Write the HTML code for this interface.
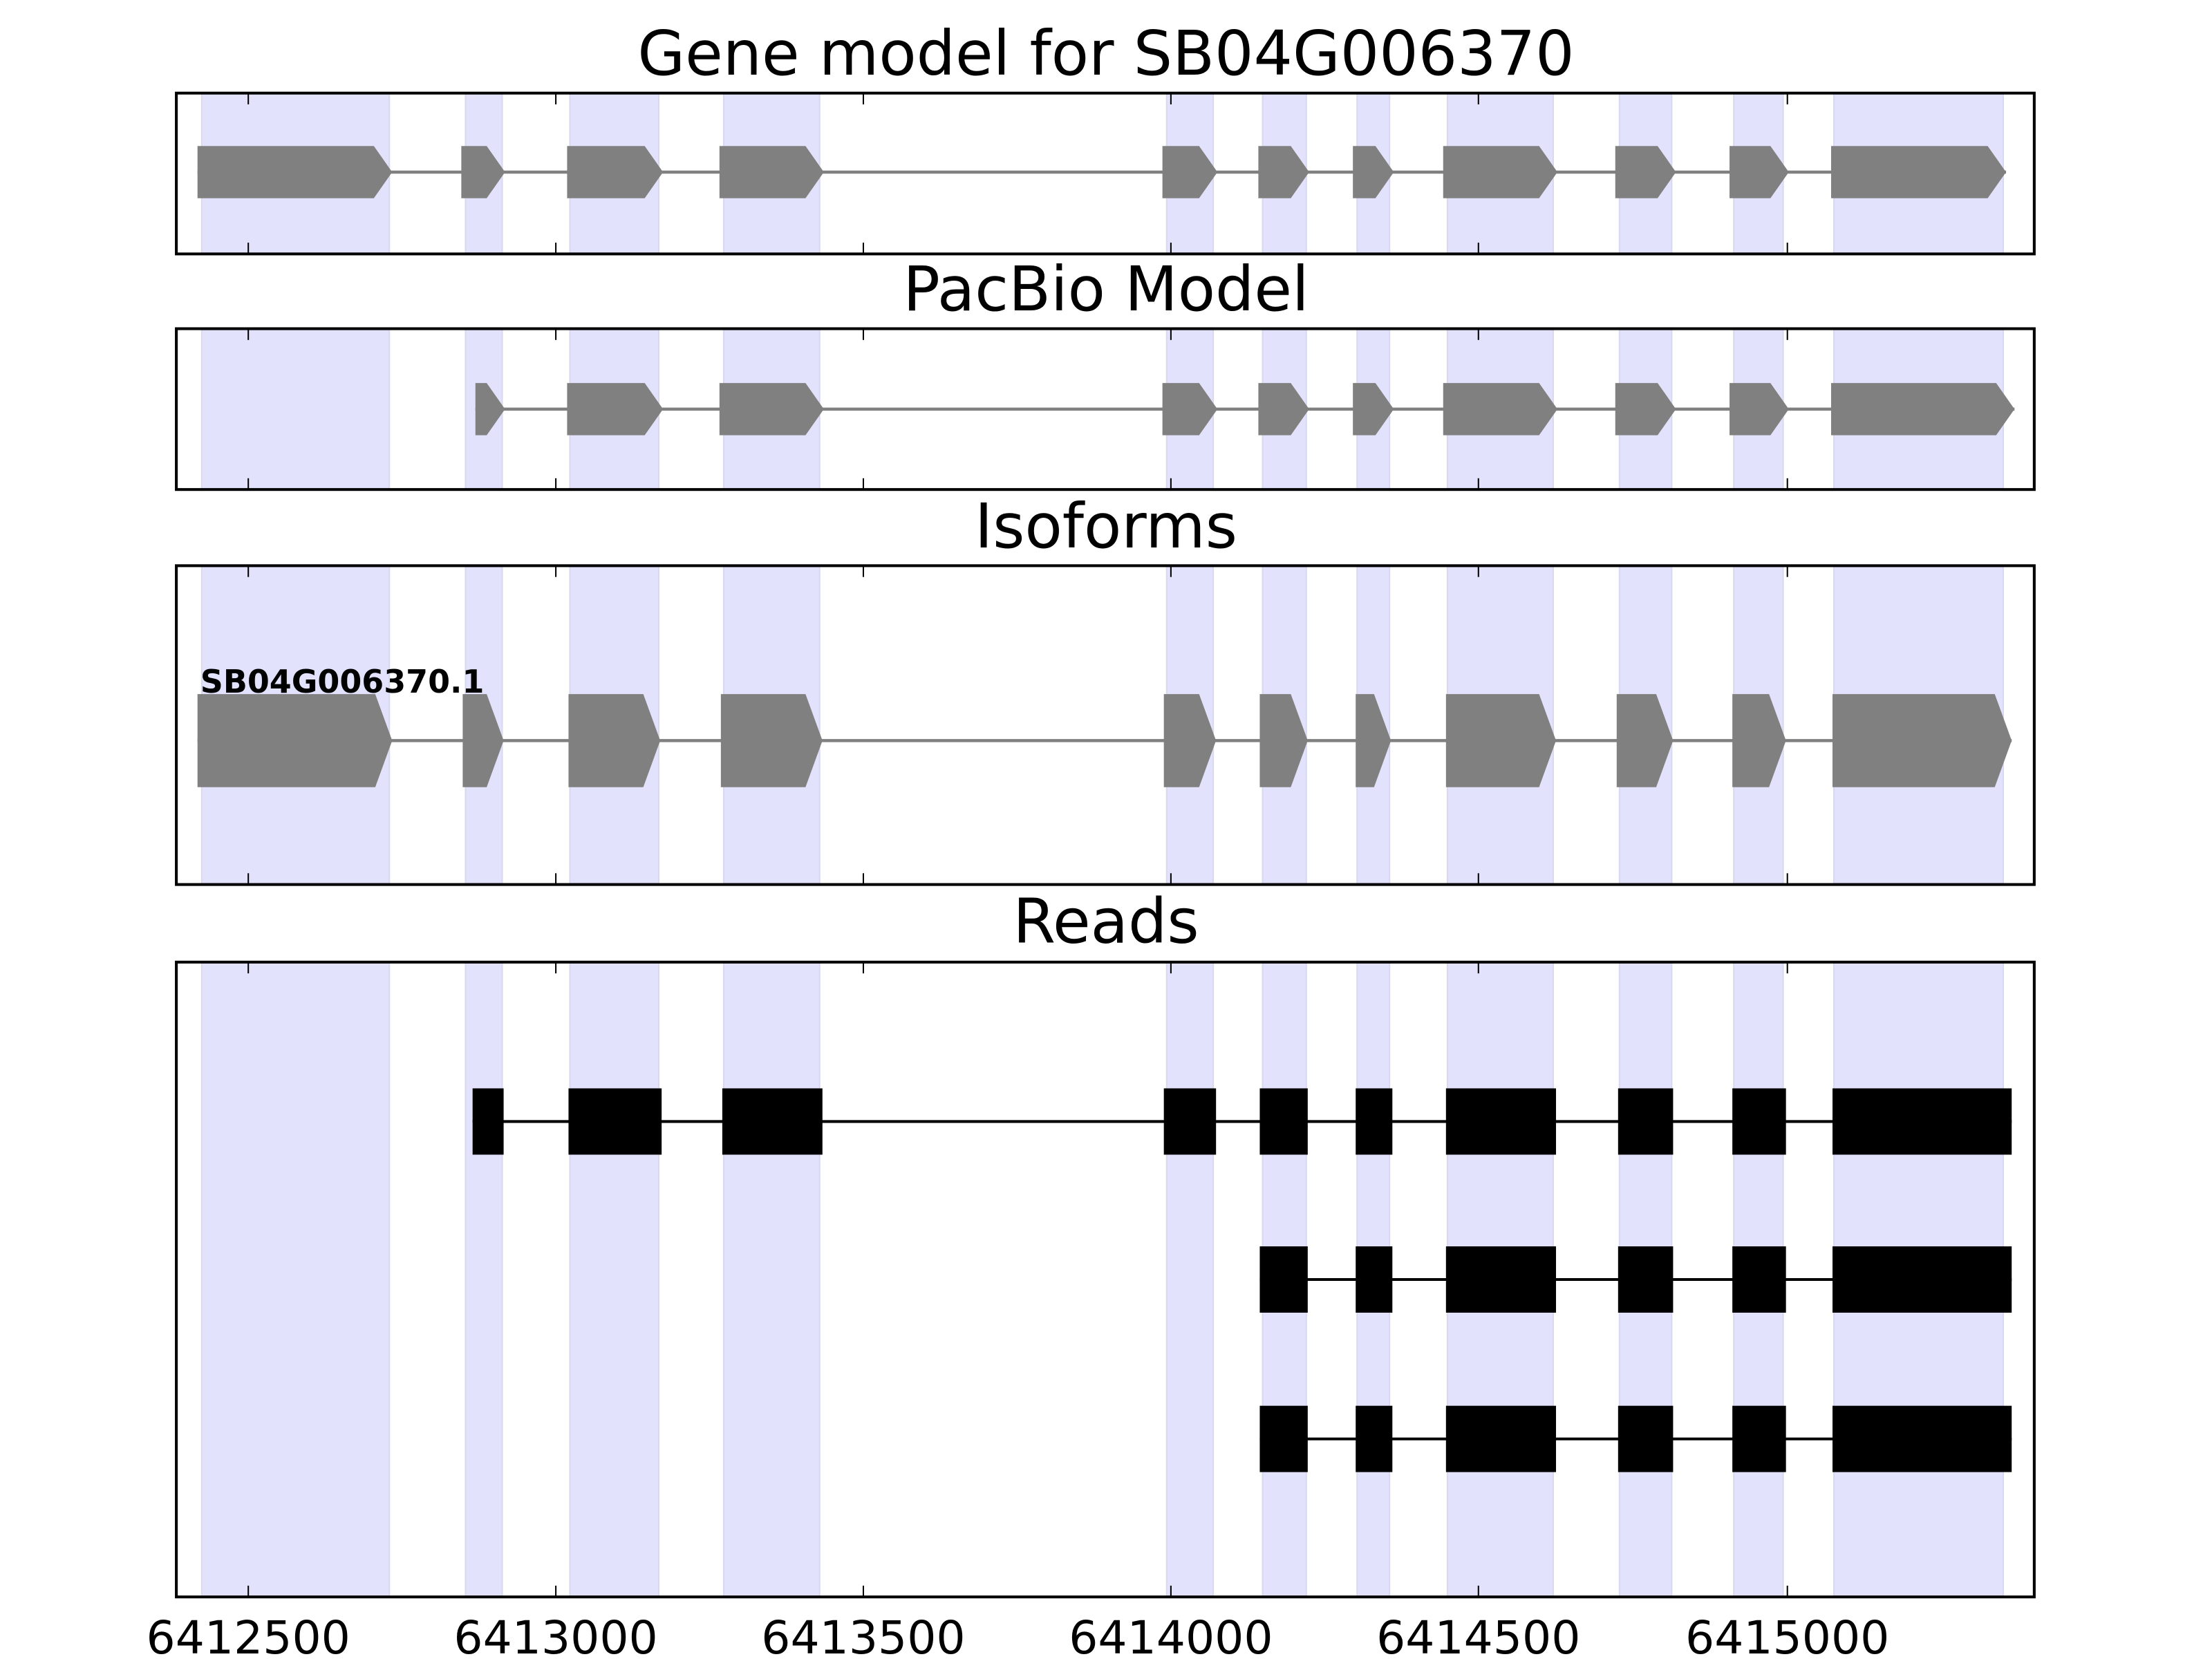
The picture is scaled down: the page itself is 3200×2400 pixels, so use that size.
<!DOCTYPE html>
<html><head><meta charset="utf-8"><style>html,body{margin:0;padding:0;background:#fff}svg{display:block}</style></head>
<body>
<svg id="s" xmlns="http://www.w3.org/2000/svg" width="3200" height="2400" viewBox="0 0 1568 1176" font-family="'DejaVu Sans','Liberation Sans',sans-serif">
<rect width="1568" height="1176" fill="#fff"/>
</svg>
<script>
const s=document.getElementById('s');const NS='http://www.w3.org/2000/svg';
function el(t,a,txt){const e=document.createElementNS(NS,t);for(const k in a)e.setAttribute(k,a[k]);if(txt)e.textContent=txt;s.appendChild(e);return e;}
const axes=[[66,180],[233,347],[401,627],[682,1132]];
const shade=[[143,276],[330,356],[404,467],[513,581],[827,860],[895,926],[962,985],[1026,1101],[1148,1185],[1229,1264],[1300,1420]];
const ticks=[176,394,612,830,1048,1267];
const L=125,R=1442;
axes.forEach(([t,b])=>{shade.forEach(([x1,x2])=>el('rect',{x:x1,y:t,width:x2-x1,height:b-t,fill:'#e2e2fd',stroke:'#d8d8ee','stroke-width':1}));});
function arrow(x1,x2,yc,h,tip,col){const a=Math.min(tip,(x2-x1));const y1=yc-h/2,y2=yc+h/2;
 el('polygon',{points:`${x1},${y1} ${x2-a},${y1} ${x2},${yc} ${x2-a},${y2} ${x1},${y2}`,fill:col});}
function model(ex,yc,h,tip,lw){el('line',{x1:ex[0][0],x2:ex[ex.length-1][1],y1:yc,y2:yc,stroke:'#808080','stroke-width':lw});ex.forEach(([a,b])=>arrow(a,b,yc,h,tip,'#808080'));}
const g=[[140,278],[327,358],[402,470],[510,584],[824,863],[892,928],[959,988],[1023,1104],[1145,1188],[1226,1268],[1298,1422]];
model(g,122,37,13,2.2);
const p=g.slice(1).map(x=>x.slice());p[0]=[337,358];p[p.length-1]=[1298,1428];
model(p,290,37,13,2.2);
const iso=[[140,278],[328,357],[403,468],[511,583],[825,862],[893,927],[961,986],[1025,1103],[1146,1186],[1228,1266],[1299,1426]];
model(iso,525,66,12,2.2);
el('text',{x:142,y:491,'font-size':22.5,'font-weight':'bold',fill:'#000'},'SB04G006370.1');
const r1=[[335,357],[403,469],[512,583],[825,862],[893,927],[961,987],[1025,1103],[1147,1186],[1228,1266],[1299,1426]];
const r2=r1.slice(4);
[[r1,795],[r2,907],[r2,1020]].forEach(([ex,yc])=>{el('line',{x1:ex[0][0],x2:ex[ex.length-1][1],y1:yc,y2:yc,stroke:'#000','stroke-width':2});ex.forEach(([a,b])=>el('rect',{x:a,y:yc-23.5,width:b-a,height:47,fill:'#000'}));});
axes.forEach(([t,b])=>{ticks.forEach(x=>{el('line',{x1:x,x2:x,y1:t,y2:t+8,stroke:'#000','stroke-width':1});el('line',{x1:x,x2:x,y1:b,y2:b-8,stroke:'#000','stroke-width':1});});
 el('rect',{x:L,y:t,width:R-L,height:b-t,fill:'none',stroke:'#000','stroke-width':2});});
const titles=[['Gene model for SB04G006370',53],['PacBio Model',220],['Isoforms',388],['Reads',668]];
titles.forEach(([t,y])=>el('text',{x:784,y:y,'font-size':43.5,'text-anchor':'middle',fill:'#000'},t));
const lab=['6412500','6413000','6413500','6414000','6414500','6415000'];
ticks.forEach((x,i)=>el('text',{x:x,y:1172,'font-size':32.5,'text-anchor':'middle',fill:'#000'},lab[i]));
</script>
</body></html>
